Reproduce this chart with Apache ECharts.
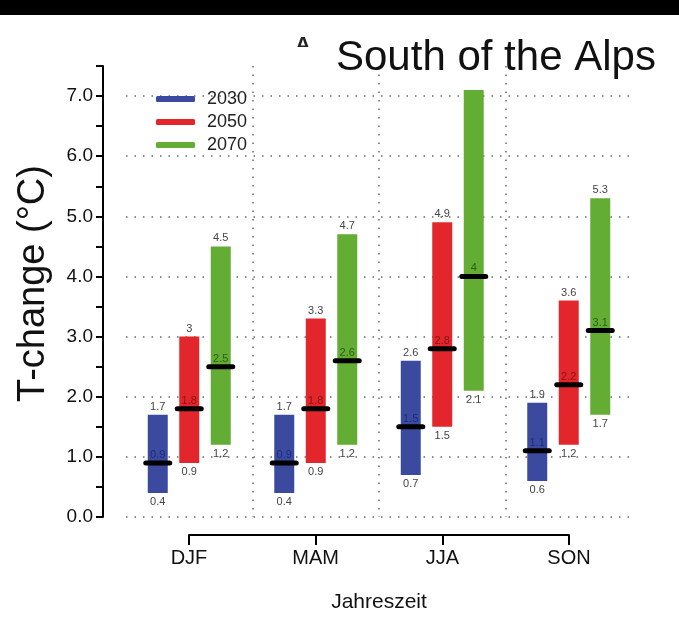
<!DOCTYPE html>
<html>
<head>
<meta charset="utf-8">
<script src="https://cdn.jsdelivr.net/npm/echarts@6/dist/echarts.min.js"></script>
<style>
html,body{margin:0;padding:0;background:#fff;}
#chart{width:679px;height:643px;}
</style>
</head>
<body>
<div id="chart"></div>
<script>
// ---- data ----
const seasons = ['DJF', 'MAM', 'JJA', 'SON'];
const years = ['2030', '2050', '2070'];
// lower bound, median, upper bound per year (rows) and season (columns)
const low2030 = [0.4, 0.4, 0.7, 0.6];
const med2030 = [0.9, 0.9, 1.5, 1.1];
const high2030 = [1.7, 1.7, 2.6, 1.9];
const low2050 = [0.9, 0.9, 1.5, 1.2];
const med2050 = [1.8, 1.8, 2.8, 2.2];
const high2050 = [3, 3.3, 4.9, 3.6];
const low2070 = [1.2, 1.2, 2.1, 1.7];
const med2070 = [2.5, 2.6, 4, 3.1];
const high2070 = [4.5, 4.7, 7.1, 5.3];
const yTicks = [0, 1, 2, 3, 4, 5, 6, 7];

const lows = [low2030, low2050, low2070];
const meds = [med2030, med2050, med2070];
const highs = [high2030, high2050, high2070];
const colors = ['#3b4a9f', '#e2262b', '#63ad35'];
const medColors = ['#1d2c7c', '#8c1414', '#2c5e12'];
const FONT = "'Liberation Sans', Arial, Helvetica, sans-serif";

function makeSeries(k) {
  return {
    type: 'custom',
    name: years[k],
    xAxisIndex: 0,
    yAxisIndex: 0,
    coordinateSystem: 'cartesian2d',
    itemStyle: { color: colors[k] },
    encode: { x: 0, y: [1, 2, 3] },
    data: seasons.map((s, i) => [i, lows[k][i], meds[k][i], highs[k][i]]),
    renderItem: function (params, api) {
      const i = api.value(0);
      const lo = api.value(1), md = api.value(2), hi = api.value(3);
      const band = api.size([1, 0])[0];
      const barW = band * 0.158;
      const step = band * 0.249;
      const cx = api.coord([i, 0])[0] + (k - 1) * step;
      const yLo = api.coord([i, lo])[1];
      const yMd = api.coord([i, md])[1];
      const yHi = api.coord([i, hi])[1];
      const children = [
        { type: 'rect', shape: { x: cx - barW / 2, y: yHi, width: barW, height: yLo - yHi },
          style: { fill: colors[k] } },
        { type: 'text', style: { text: String(md), x: cx, y: yMd - 8, fill: medColors[k],
          font: '11px ' + FONT, align: 'center', verticalAlign: 'middle' } },
        { type: 'line', shape: { x1: cx - barW / 2 - 2, y1: yMd, x2: cx + barW / 2 + 2, y2: yMd },
          style: { stroke: '#000', lineWidth: 5, lineCap: 'round' } },
        { type: 'text', style: { text: String(lo), x: cx, y: yLo + 9, fill: '#444',
          font: '11px ' + FONT, align: 'center', verticalAlign: 'middle' } }
      ];
      if (hi <= 7) {
        children.push({ type: 'text', style: { text: String(hi), x: cx, y: yHi - 8, fill: '#444',
          font: '11px ' + FONT, align: 'center', verticalAlign: 'middle' } });
      }
      return { type: 'group', children: children };
    }
  };
}

const dotted = { color: '#6a6a6a', width: 1.5, type: [1.5, 7] };

const option = {
  animation: false,
  backgroundColor: '#fff',
  textStyle: { fontFamily: FONT },
  title: {
    text: 'South of the Alps',
    left: 331, top: 32,
    textStyle: { fontSize: 42, fontWeight: 'normal', color: '#111', fontFamily: FONT }
  },
  graphic: [
    { type: 'rect', left: 0, top: 0, shape: { width: 679, height: 15 }, style: { fill: '#000' }, z: 100 },
    { type: 'text', left: 295, top: 35, style: { text: 'A', font: 'bold 22px ' + FONT, fill: '#222' }, z: 100 },
    { type: 'rect', left: 290, top: 47, shape: { width: 40, height: 20 }, style: { fill: '#fff' }, z: 101 }
  ],
  legend: {
    data: years,
    orient: 'vertical',
    left: 151, top: 85,
    icon: 'roundRect',
    itemWidth: 39, itemHeight: 6,
    itemGap: 5,
    textStyle: { fontSize: 18, color: '#222', lineHeight: 18, fontFamily: FONT, padding: [0, 0, 0, 7] }
  },
  grid: [
    { left: 126, right: 47, top: 66, bottom: 126 },
    { left: 189, right: 110, top: 530, height: 5 }
  ],
  xAxis: [
    {
      gridIndex: 0, type: 'category', data: seasons, boundaryGap: true,
      axisLine: { show: false }, axisTick: { show: false }, axisLabel: { show: false },
      splitLine: { show: true, showMinLine: false, showMaxLine: false, lineStyle: dotted }
    },
    {
      gridIndex: 1, type: 'category', data: seasons, boundaryGap: false, position: 'bottom',
      axisLine: { show: true, lineStyle: { color: '#000', width: 2 } },
      axisTick: { show: true, length: 10, lineStyle: { color: '#000', width: 2 } },
      axisLabel: { fontSize: 20, color: '#111', margin: 13, fontFamily: FONT },
      splitLine: { show: false },
      name: 'Jahreszeit', nameLocation: 'middle', nameGap: 57,
      nameTextStyle: { fontSize: 21, color: '#111', fontFamily: FONT }
    }
  ],
  yAxis: [
    {
      gridIndex: 0, type: 'value', min: 0, max: 7.5, interval: 0.5, offset: 23, position: 'left',
      axisLine: { show: true, lineStyle: { color: '#000', width: 2 } },
      axisTick: { show: true, length: 7, lineStyle: { color: '#000', width: 2 } },
      axisLabel: {
        fontSize: 19, color: '#111', margin: 10, fontFamily: FONT,
        formatter: function (v) { return yTicks.indexOf(v) >= 0 ? v.toFixed(1) : ''; }
      },
      splitLine: { show: false },
      name: 'T-change (°C)', nameLocation: 'middle', nameGap: 50,
      nameTextStyle: { fontSize: 38, color: '#111', fontFamily: FONT, padding: [0, 0, 0, 16] }
    },
    {
      gridIndex: 0, type: 'value', min: 0, max: 7.5, interval: 1, position: 'left',
      axisLine: { show: false }, axisTick: { show: false }, axisLabel: { show: false },
      splitLine: { show: true, showMinLine: true, showMaxLine: false, lineStyle: dotted }
    },
    {
      gridIndex: 1, type: 'value', min: 0, max: 1, show: false
    }
  ],
  series: [makeSeries(0), makeSeries(1), makeSeries(2)]
};

const chart = echarts.init(document.getElementById('chart'), null, { renderer: 'canvas' });
chart.setOption(option);
</script>
</body>
</html>
